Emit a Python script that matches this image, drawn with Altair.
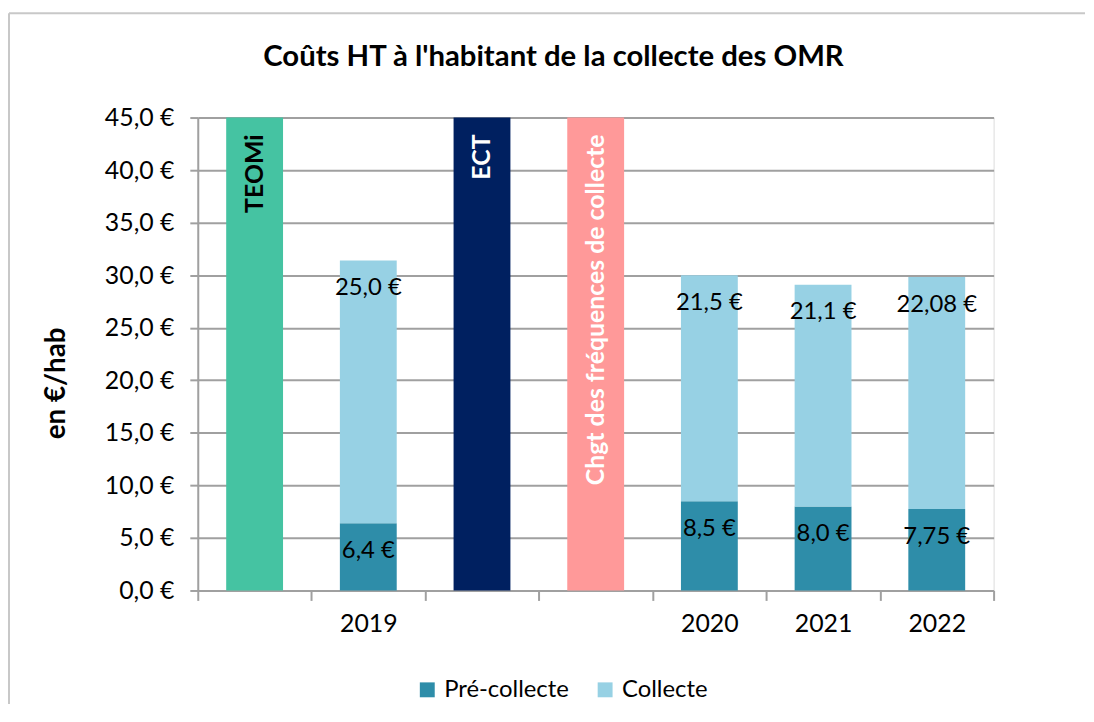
import altair as alt
import pandas as pd

# ---- data ----
categories = ["TEOMi", "2019", "ECT", "Chgt des fréquences de collecte", "2020", "2021", "2022"]
years = ["2019", "2020", "2021", "2022"]
pre_collecte = [6.4, 8.5, 8.0, 7.75]
collecte = [25.0, 21.5, 21.1, 22.08]
pre_labels = ["6,4 €", "8,5 €", "8,0 €", "7,75 €"]
col_labels = ["25,0 €", "21,5 €", "21,1 €", "22,08 €"]
markers = ["TEOMi", "ECT", "Chgt des fréquences de collecte"]
marker_values = [45, 45, 45]
marker_text_colors = ["black", "white", "white"]
y_ticks = [0, 5, 10, 15, 20, 25, 30, 35, 40, 45]
title_text = "Coûts HT à l'habitant de la collecte des OMR"

series_domain = ["Pré-collecte", "Collecte", "TEOMi", "ECT", "Chgt"]
series_colors = ["#2E8DA9", "#97D1E4", "#45C3A2", "#002060", "#FF9999"]

rows = []
for y, p, c in zip(years, pre_collecte, collecte):
    rows.append({"cat": y, "series": "Pré-collecte", "value": p, "ord": 0})
    rows.append({"cat": y, "series": "Collecte", "value": c, "ord": 1})
for m, v, s in zip(markers, marker_values, ["TEOMi", "ECT", "Chgt"]):
    rows.append({"cat": m, "series": s, "value": v, "ord": 0})
bars_df = pd.DataFrame(rows)

lab_rows = []
for y, p, c, pl, cl in zip(years, pre_collecte, collecte, pre_labels, col_labels):
    lab_rows.append({"cat": y, "top": p, "label": pl})
    lab_rows.append({"cat": y, "top": p + c, "label": cl})
labels_df = pd.DataFrame(lab_rows)

marker_df = pd.DataFrame({"cat": markers, "value": marker_values, "tcolor": marker_text_colors})

FONT = "Lato"
GRID = "#A0A0A0"
FRAME = "#C8C8C8"

x_enc = alt.X(
    "cat:N",
    sort=categories,
    scale=alt.Scale(domain=categories, paddingInner=0, paddingOuter=0),
    axis=alt.Axis(
        title=None,
        labelExpr="indexof(['2019','2020','2021','2022'], datum.value) >= 0 ? datum.value : ''",
        labelAngle=0,
        tickBand="extent",
        tickSize=10,
        tickColor=GRID,
        tickWidth=2,
        domainColor=GRID,
        domainWidth=2,
        labelFontSize=25,
        labelFont=FONT,
        labelColor="black",
        labelPadding=11,
        grid=False,
    ),
)

y_scale = alt.Scale(domain=[0, 45], nice=False)

bars = alt.Chart(bars_df).mark_bar(width=alt.RelativeBandSize(0.5)).encode(
    x=x_enc,
    y=alt.Y(
        "value:Q",
        stack="zero",
        scale=y_scale,
        axis=alt.Axis(
            title="en €/hab",
            titleFont=FONT,
            titleFontSize=28,
            titleFontWeight="bold",
            titleColor="black",
            titleAngle=270,
            titleAlign="center",
            titleBaseline="middle",
            titleX=-142,
            titleY=267,
            values=y_ticks,
            labelExpr="replace(format(datum.value, '.1f'), '.', ',') + ' €'",
            labelFont=FONT,
            labelFontSize=25,
            labelColor="black",
            labelPadding=16,
            tickSize=8,
            tickColor=GRID,
            tickWidth=2,
            domainColor=GRID,
            domainWidth=2,
            grid=True,
            gridColor=GRID,
            gridWidth=2,
        ),
    ),
    color=alt.Color(
        "series:N",
        scale=alt.Scale(domain=series_domain, range=series_colors),
        legend=alt.Legend(
            title=None,
            values=["Pré-collecte", "Collecte"],
            orient="none",
            direction="horizontal",
            legendX=219,
            legendY=564,
            symbolType="square",
            symbolSize=225,
            symbolStrokeWidth=0,
            labelFont=FONT,
            labelFontSize=24,
            labelColor="black",
            labelOffset=5,
            columnPadding=24,
            padding=0,
        ),
    ),
    order=alt.Order("ord:Q"),
)

value_labels = alt.Chart(labels_df).mark_text(
    font=FONT, fontSize=24, color="black", baseline="middle", align="center", dy=28
).encode(
    x=alt.X("cat:N", sort=categories),
    y=alt.Y("top:Q", scale=y_scale),
    text="label:N",
)

marker_labels = alt.Chart(marker_df).mark_text(
    font=FONT, fontSize=25, fontWeight="bold", angle=270, align="right", baseline="middle", dx=-17
).encode(
    x=alt.X("cat:N", sort=categories),
    y=alt.Y("value:Q", scale=y_scale),
    text="cat:N",
    color=alt.Color("tcolor:N", scale=None),
)

title_mark = alt.Chart(pd.DataFrame({"t": [title_text]})).mark_text(
    font=FONT, fontSize=29.5, fontWeight="bold", color="black",
    align="center", baseline="middle", clip=False
).encode(
    x=alt.value(358),
    y=alt.value(-61),
    text="t:N",
)

frame_df = pd.DataFrame({"a": [0]})
frame_top = alt.Chart(frame_df).mark_rule(color=FRAME, strokeWidth=2, clip=False).encode(
    x=alt.value(-190), x2=alt.value(893), y=alt.value(-105)
)
frame_left = alt.Chart(frame_df).mark_rule(color=FRAME, strokeWidth=2, clip=False).encode(
    x=alt.value(-190), y=alt.value(-105), y2=alt.value(640)
)

chart = alt.layer(frame_top, frame_left, bars, value_labels, marker_labels, title_mark).properties(
    width=801,
    height=476,
    autosize=alt.AutoSizeParams(type="none"),
    padding={"left": 191, "top": 108, "right": 93, "bottom": 112},
).configure_view(stroke=None).configure(background="white")

chart.save("out.html", embed_options={"renderer": "svg", "actions": False})
